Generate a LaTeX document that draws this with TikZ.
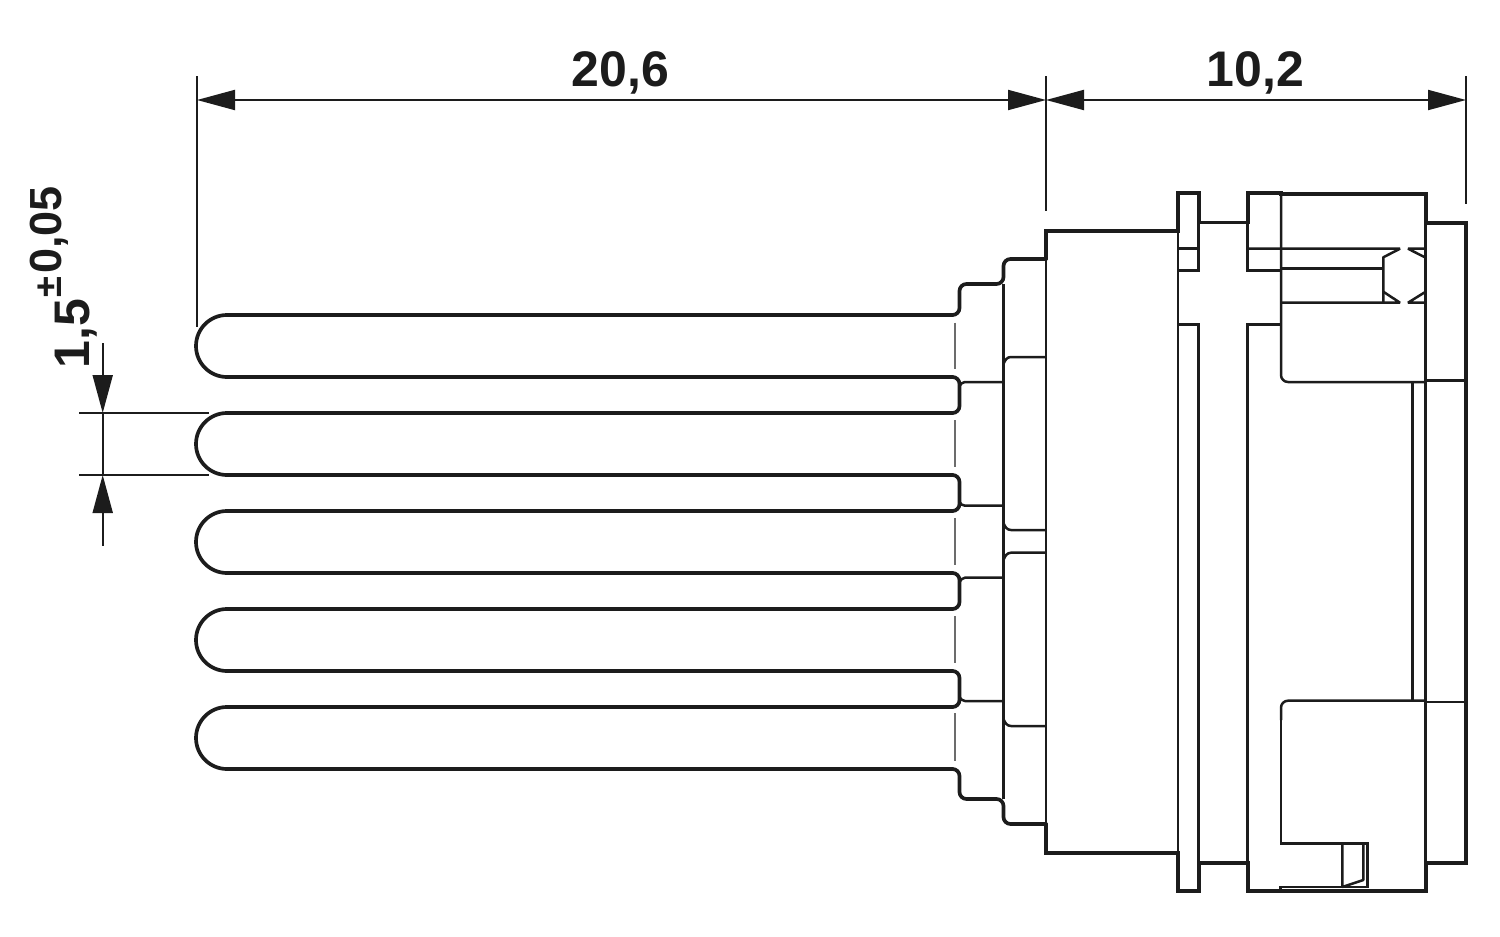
\documentclass[tikz,border=0pt]{standalone}
\usepackage{fontspec}
\setmainfont{Liberation Sans}
\usetikzlibrary{arrows.meta}
\definecolor{ink}{RGB}{28,28,28}
\tikzset{
  thickline/.style={draw=ink,line width=1.85pt,line join=miter,line cap=round},
  thinline/.style={draw=ink,line width=1.25pt,line cap=butt,line join=miter},
  chamfer/.style={draw=ink,line width=1.25pt,line cap=butt,line join=bevel},
  dimline/.style={draw=ink,line width=1pt},
  centerline/.style={draw=gray!85!black,line width=0.8pt},
  dimtip/.style={-{Triangle[length=19pt,width=10pt,fill=ink]}},
  dimtips/.style={{Triangle[length=19pt,width=10pt,fill=ink]}-{Triangle[length=19pt,width=10pt,fill=ink]}},
  dimtext/.style={font=\bfseries\fontsize{25pt}{26pt}\selectfont,text=ink,inner sep=0pt},
  suptext/.style={font=\bfseries\fontsize{22.5pt}{24pt}\selectfont,text=ink,inner sep=0pt},
}
\begin{document}
\begin{tikzpicture}[x=0.5pt,y=-0.5pt]
\useasboundingbox (0,0) rectangle (1500,937);

% dimension coordinates
\coordinate (dL) at (197,100);
\coordinate (dM) at (1046,100);
\coordinate (dR) at (1466,100);
\coordinate (vT) at (102.7,343);
\coordinate (vA) at (102.7,413);
\coordinate (vB) at (102.7,475);
\coordinate (vE) at (102.7,545.7);

% extension lines
\draw[dimline] (196.5,76) -- (196.5,327);
\draw[dimline] (1046,76) -- (1046,211);
\draw[dimline] (1466,76) -- (1466,204);
\draw[dimline] (79.3,413) -- (209,413);
\draw[dimline] (79.3,474.5) -- (209,474.5);

% dimension lines
\draw[dimline,dimtips] (dL) -- (dM);
\draw[dimline,dimtips] (dM) -- (dR);
\draw[dimline,dimtip] (vT) -- (vA);
\draw[dimline] (vA) -- (vB);
\draw[dimline,dimtip] (vE) -- (vB);

% dimension texts
\node[dimtext,anchor=base] (t206) at (620.5,86) {20,6};
\node[dimtext,anchor=base] (t102) at (1255.5,86) {10,2};
\node[dimtext,anchor=base west,rotate=90] (t15) at (89.3,369) {1,5};
\node[suptext,anchor=base west,rotate=90] (ttol) at (61.7,298) {{\fontsize{19pt}{20pt}\selectfont ±}\kern1.5pt 0,05};

% pin centre gaps
\foreach \a/\b in {322.7/369,420/467,518/565,616/662.7,713.3/760.7}
  \draw[centerline] (955,\a) -- (955,\b);

% pins
\foreach \t/\b in {315/377,413/475,511/573,609/671,707/769}
  \draw[thickline] (953,\t) -- (227,\t)
    arc[start angle=90,end angle=270,radius=15.5pt] -- (953,\b);

% gaps between pins
\foreach \a/\b in {377/413,475/511,573/609,671/707}
  \draw[thickline,rounded corners=3.5pt] (952,\a) -- (959.5,\a) -- (959.5,\b) -- (952,\b);

% stepped shoulders
\draw[thickline,rounded corners=3.5pt]
  (952,315) -- (959.5,315) -- (959.5,284) -- (1003.5,284) -- (1003.5,259) -- (1046,259);
\draw[thickline,rounded corners=3.5pt]
  (952,769) -- (959.5,769) -- (959.5,799) -- (1003.5,799) -- (1003.5,824) -- (1046,824);

% outer body outline
\draw[thickline]
  (1046,259) -- (1046,231) -- (1178,231) -- (1178,193) -- (1198.7,193) -- (1198.7,222.5)
  -- (1247.7,222.5) -- (1247.7,193) -- (1281,193) -- (1281,194.3) -- (1425.7,194.3) -- (1425.7,222.7)
  -- (1466,222.7) -- (1466,863) -- (1425.7,863) -- (1425.7,891.3) -- (1247.7,891.3)
  -- (1247.7,863) -- (1198.7,863) -- (1198.7,891.3) -- (1178,891.3) -- (1178,853) -- (1046,853) -- (1046,824);

% pin-to-body thin lines
\draw[thinline] (1003.5,382) -- (965,382) .. controls (962,382) and (961,384) .. (959.5,386);
\draw[thinline] (1003.5,505.7) -- (965,505.7) .. controls (962,505.7) and (961,504) .. (959.5,502);
\draw[thinline] (1003.5,577.7) -- (965,577.7) .. controls (962,577.7) and (961,580) .. (959.5,582);
\draw[thinline] (1003.5,701) -- (965,701) .. controls (962,701) and (961,699) .. (959.5,697);

% collar
\draw[thinline] (1003.5,284) -- (1003.5,799);
\draw[thinline] (1046,259) -- (1046,824);
\draw[thinline] (1046,357) -- (1011,357) .. controls (1007,357) and (1005,360) .. (1003.5,364);
\draw[thinline] (1046,530) -- (1011,530) .. controls (1007,530) and (1005,527) .. (1003.5,523);
\draw[thinline] (1046,552.7) -- (1011,552.7) .. controls (1007,552.7) and (1005,556) .. (1003.5,560);
\draw[thinline] (1046,726) -- (1011,726) .. controls (1007,726) and (1005,723) .. (1003.5,719);

% first flange
\draw[thinline] (1178,231) -- (1178,853);
\draw[thinline] (1198.7,222.5) -- (1198.7,270.7) -- (1178,270.7);
\draw[thinline] (1178,248.7) -- (1198.7,248.7);
\draw[thinline] (1178,324.3) -- (1198.7,324.3) -- (1198.7,863);

% second flange
\draw[thinline] (1247.7,222.5) -- (1247.7,270.7) -- (1281,270.7);
\draw[chamfer] (1247.7,248.7) -- (1400,248.7) -- (1383.3,257.3) -- (1383.3,302.7);
\draw[thinline] (1281,324.3) -- (1247.7,324.3) -- (1247.7,863);
\draw[thinline,rounded corners=3.5pt] (1281,194) -- (1281,382) -- (1425.7,382);
\draw[thinline] (1281,268.7) -- (1383.3,268.7);
\draw[chamfer] (1281,302.7) -- (1400,302.7) -- (1383.3,291.7);
\draw[chamfer] (1425.7,257.7) -- (1408,248.7) -- (1425.7,248.7);
\draw[chamfer] (1425.7,291.7) -- (1408,302.7) -- (1425.7,302.7);

% right body
\draw[thinline] (1425.7,194) -- (1425.7,891);
\draw[thinline] (1412.7,382) -- (1412.7,700.7);
\draw[thinline] (1425.7,380.7) -- (1466,380.7);
\draw[thinline] (1425.7,702) -- (1466,702);

% latch
\draw[thinline,rounded corners=3.5pt] (1425.7,700.7) -- (1281,700.7) -- (1281,720);
\draw[thinline] (1281,720) -- (1281,843.3) -- (1367.3,843.3) -- (1367.3,887) -- (1280.7,887) -- (1280.7,891);
\draw[chamfer] (1342.3,843.3) -- (1342.3,887) -- (1363.3,880) -- (1363.3,843.3);
\end{tikzpicture}
\end{document}
